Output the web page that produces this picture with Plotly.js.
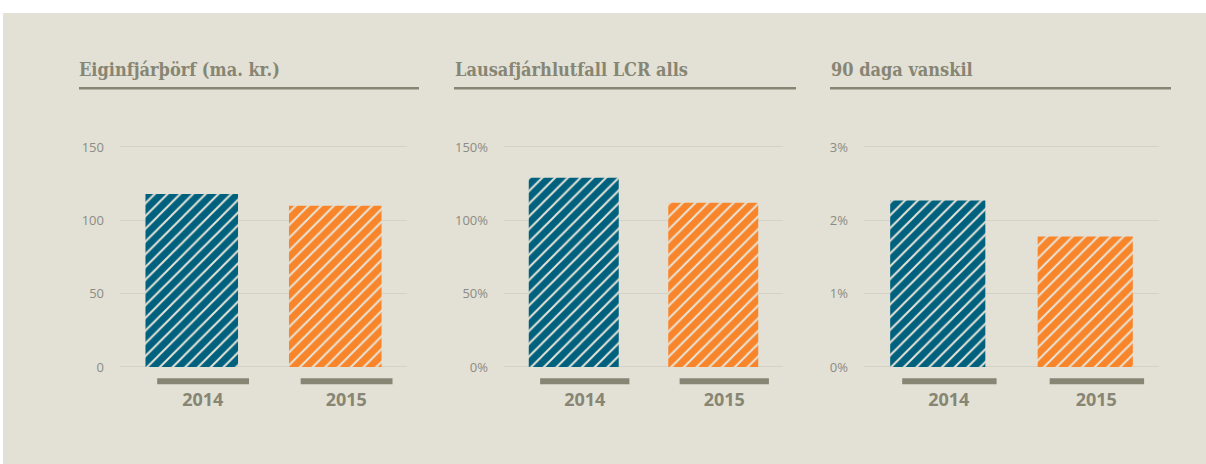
<!DOCTYPE html>
<html>
<head>
<meta charset="utf-8">
<script src="https://cdn.plot.ly/plotly-3.0.1.min.js"></script>
<style>
  html, body { margin: 0; padding: 0; background: #ffffff; width: 1206px; height: 464px; overflow: hidden; }
  #chart { position: absolute; left: 3px; top: 13px; width: 1203px; height: 451px; }
</style>
</head>
<body>
<div id="chart"></div>
<script>
// ---- data ----
const years = ['2014', '2015'];
const panelTitles = ['Eiginfjárþörf (ma. kr.)', 'Lausafjárhlutfall LCR alls', '90 daga vanskil'];
const capitalReq = [118, 110];      // ma. kr.
const lcrTotal = [129, 112];        // %
const default90 = [2.27, 1.78];     // %
const yTickVals = [[0, 50, 100, 150], [0, 50, 100, 150], [0, 1, 2, 3]];
const ySuffix = ['', '%', '%'];
const yMax = [155, 155, 3.1];

// ---- style ----
const BG = '#E3E1D5';
const STRIPE = '#E6E3D6';
const BLUE = '#00617F';
const ORANGE = '#F9852A';
const GRID = '#D4D2C6';
const OLIVE = '#878573';
const TICK = '#8C8B84';
const barColors = [BLUE, ORANGE];

const series = [capitalReq, lcrTotal, default90];
const xDomains = [[0.09726, 0.33583], [0.41646, 0.64838], [0.71571, 0.96093]];
const yDomain = [0.21508, 0.71914];
const titleX = [0.0615, 0.3740, 0.6866];
const lineX = [[0.06318, 0.34580], [0.37490, 0.65919], [0.68745, 0.97090]];

const data = [];
const layout = {
  width: 1203, height: 451,
  margin: {l: 0, r: 0, t: 0, b: 0},
  paper_bgcolor: BG, plot_bgcolor: BG,
  showlegend: false,
  barmode: 'overlay',
  bargap: 0.355,
  shapes: [], annotations: []
};

series.forEach((vals, p) => {
  const sfx = p === 0 ? '' : String(p + 1);
  years.forEach((yr, i) => {
    data.push({
      type: 'bar', x: [yr], y: [vals[i]],
      xaxis: 'x' + sfx, yaxis: 'y' + sfx,
      marker: {
        color: barColors[i],
        line: {width: 0},
        pattern: {shape: '/', fgcolor: STRIPE, fgopacity: 1, size: 9, solidity: 0.22, fillmode: 'overlay'}
      },
      hoverinfo: 'x+y'
    });
  });
  layout['xaxis' + sfx] = {
    domain: xDomains[p], anchor: 'y' + sfx,
    type: 'category', categoryarray: years, categoryorder: 'array', range: [-0.5, 1.5],
    showgrid: false, zeroline: false, showline: false, ticks: '',
    tickfont: {family: 'Open Sans, sans-serif', size: 18, color: OLIVE, weight: 'bold'},
    ticklabelshift: 11, ticklabelstandoff: 20,
    fixedrange: true
  };
  layout['yaxis' + sfx] = {
    domain: yDomain, anchor: 'x' + sfx,
    range: [0, yMax[p]],
    tickmode: 'array',
    tickvals: yTickVals[p],
    ticktext: yTickVals[p].map(v => v + ySuffix[p]),
    showgrid: true, gridcolor: GRID, gridwidth: 1,
    zeroline: true, zerolinecolor: GRID, zerolinewidth: 1,
    showline: false, ticks: '',
    tickfont: {family: 'Open Sans, sans-serif', size: 13, color: TICK},
    ticklabelstandoff: 15,
    fixedrange: true
  };
  // panel title
  layout.annotations.push({
    text: panelTitles[p], xref: 'paper', yref: 'paper',
    x: titleX[p], y: 0.8758, xanchor: 'left', yanchor: 'middle', showarrow: false,
    font: {family: 'DejaVu Serif Condensed, DejaVu Serif, serif', size: 18, color: OLIVE, weight: 'bold'}
  });
  layout.shapes.push({
    type: 'line', xref: 'paper', yref: 'paper',
    x0: lineX[p][0], x1: lineX[p][1], y0: 0.833, y1: 0.833,
    line: {color: OLIVE, width: 2.5}
  });
  // grey bars under each category
  years.forEach((yr, i) => {
    const c = (i + 0.5 + 0.079) / 2;
    const hw = 0.32 / 2;
    layout.shapes.push({
      type: 'rect', xref: 'x' + sfx + ' domain', yref: 'paper',
      x0: c - hw, x1: c + hw, y0: 0.1767, y1: 0.1900,
      fillcolor: OLIVE, line: {width: 0}
    });
  });
});

Plotly.newPlot('chart', data, layout, {displayModeBar: false, staticPlot: true});
</script>
</body>
</html>
